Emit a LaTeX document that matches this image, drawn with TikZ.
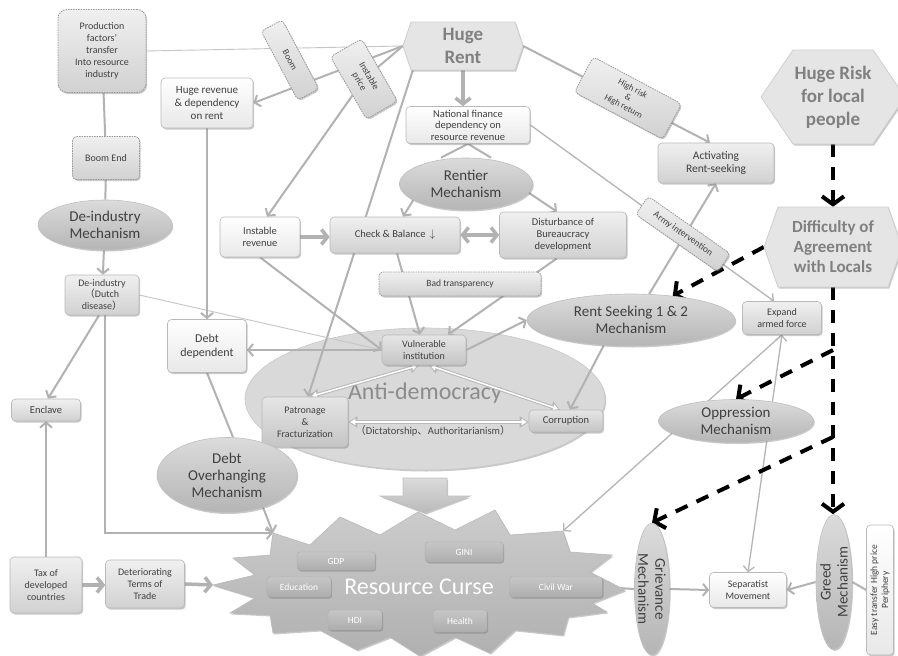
\documentclass[tikz,border=0pt]{standalone}
\usepackage{fontspec}
\setmainfont{Carlito}
\newfontfamily\cjk{Noto Sans CJK JP}
\usetikzlibrary{shapes.geometric,arrows.meta,shadows,calc}
\pgfdeclarelayer{bottom}
\pgfdeclarelayer{bg}
\pgfsetlayers{bottom,bg,main}
\newcommand\fsz[2]{\fontsize{#1}{#2}\selectfont}
\newcommand\vtx[1]{\smash{\raisebox{-0.36em}{\begin{tabular}{@{}c@{}}#1\end{tabular}}}}
\newcommand\hexsh[5]{\path[hexshape] ({#1-#3},{#2}) -- ({#1-#3+#5},{#2-#4}) -- ({#1+#3-#5},{#2-#4}) -- ({#1+#3},{#2}) -- ({#1+#3-#5},{#2+#4}) -- ({#1-#3+#5},{#2+#4}) -- cycle;}
\tikzset{
 shad/.style={drop shadow={shadow xshift=1.2pt, shadow yshift=-1.5pt, opacity=0.35, fill=black!60}},
 box/.style={rectangle, rounded corners=4pt, draw=gray!55, line width=0.6pt, top color=white, bottom color=gray!18, text=black!75, align=center, inner sep=1pt, font=\fsz{10.5}{12}, shad},
 boxm/.style={box, top color=gray!12, bottom color=gray!36},
 boxd/.style={box, top color=gray!20, bottom color=gray!46},
 dbox/.style={boxm, draw=gray!80, dash pattern=on 1.5pt off 1pt, line width=0.8pt},
 mech/.style={ellipse, draw=gray!50, line width=0.6pt, top color=gray!28, bottom color=gray!58, text=black!75, inner sep=0pt, font=\fsz{15}{17}, shad},
 sub/.style={rectangle, rounded corners=3pt, draw=gray!65, top color=gray!45, bottom color=gray!64, text=white, font=\fsz{9.5}{11}, inner sep=1pt, shad},
 hexshape/.style={fill=gray!20, draw=gray!38, line width=0.8pt, shad},
 hextext/.style={rectangle, draw=none, text=black!50, align=center, font=\bfseries\fsz{19}{23}, inner sep=0pt},
 cthin/.style={draw=gray!45, line width=0.9pt},
 cplain/.style={draw=gray!60, line width=2pt},
 cconn/.style={cplain, -{Straight Barb[length=5pt,width=12pt]}},
 cmid/.style={draw=gray!58, line width=1.3pt, -{Straight Barb[length=5pt,width=11pt]}},
 cmidd/.style={cmid, {Straight Barb[length=5pt,width=11pt]}-{Straight Barb[length=5pt,width=11pt]}},
 cfat/.style={draw=gray!60, line width=3.5pt, -{Straight Barb[length=6pt,width=15pt]}},
 cfatdbl/.style={cfat, {Straight Barb[length=6pt,width=15pt]}-{Straight Barb[length=6pt,width=15pt]}},
 cdash/.style={draw=black, line width=4pt, dash pattern=on 13pt off 10pt, -{Straight Barb[length=8pt,width=22pt]}},
 cwdbl/.style={draw=gray!55, line width=3.6pt, {Triangle[length=9pt,width=11pt]}-{Triangle[length=9pt,width=11pt]},
   postaction={draw=white, line width=1.5pt, shorten >=2pt, shorten <=2pt, {Triangle[length=5pt,width=6pt]}-{Triangle[length=5pt,width=6pt]}}}
}
\begin{document}
\begin{tikzpicture}[x=1pt,y=-1pt]
\useasboundingbox (0,0) rectangle (898,656);
\begin{pgfonlayer}{bottom}
\fill[white] (0,0) rectangle (898,656);
\node[ellipse, fill=gray!30, draw=gray!42, line width=0.6pt, minimum width=360pt, minimum height=142pt, text=black!45, font=\fsz{24}{26}, text height=17pt, text depth=17pt, shad] (antidem) at (425,399) {Anti-democracy};
\end{pgfonlayer}

% ---- shapes drawn directly
\hexsh{463}{46}{60}{24}{8}
\hexsh{833}{97}{72}{47}{32}
\hexsh{833}{247}{69}{40}{14}
\path[top color=gray!40, bottom color=gray!62, draw=gray!55, line width=0.6pt, shad]
 (213,585) -- (255,575) -- (233,558) -- (270,555) -- (273,533) -- (310,545) -- (340,517) -- (380,535) -- (418,512) -- (455,530) -- (495,510) -- (510,535) -- (563,531) -- (570,552) -- (612,555) -- (590,572) -- (625,590) -- (592,603) -- (607,612) -- (568,617) -- (563,635) -- (515,630) -- (490,653) -- (455,637) -- (420,656) -- (390,637) -- (357,650) -- (320,630) -- (273,633) -- (270,615) -- (230,613) -- (255,598) -- cycle;
\coordinate (rctl) at (273,533);
\coordinate (rcl) at (213,585);
\coordinate (rctr) at (563,531);
\path[top color=gray!28, bottom color=gray!55, draw=gray!50, line width=0.6pt, shad]
 (403,478) -- (447,478) -- (447,496) -- (470,496) -- (425,513) -- (380,496) -- (403,496) -- cycle;

% ---- nodes
\node[dbox, minimum width=88pt, minimum height=83pt, rounded corners=9pt, font=\fsz{10}{12}] (prod) at (102,51) {Production\\factors'\\transfer\\Into resource\\industry};
\node[dbox, minimum width=67pt, minimum height=43pt, font=\fsz{10}{12}] (boomend) at (106,158) {Boom End};
\node[mech, minimum width=134pt, minimum height=50pt] (deindm) at (105,225) {\vtx{De-industry\\Mechanism}};
\node[boxm, minimum width=74pt, minimum height=40pt, font=\fsz{10}{11.5}] (deind) at (102,295) {De-industry\\{\cjk（}Dutch\\disease{\cjk）}};
\node[box, minimum width=92pt, minimum height=50pt, font=\fsz{11}{13}] (hrev) at (207,103) {Huge revenue\\\& dependency\\on rent};
\node[dbox, rotate=-62, minimum width=78pt, minimum height=24pt, font=\fsz{9}{10}] (boom) at (290,60) {Boom};
\node[dbox, rotate=-60, minimum width=72pt, minimum height=36pt, font=\fsz{9.5}{11}] (iprice) at (364,79) {Instable\\price};
\node[hextext, minimum width=120pt, minimum height=48pt] (hrent) at (463,46) {Huge\\Rent};
\node[box, minimum width=124pt, minimum height=37pt, font=\fsz{10.5}{11.5}] (natfin) at (468,125) {National finance\\dependency on\\resource revenue};
\node[dbox, rotate=-28, minimum width=100pt, minimum height=40pt, font=\fsz{9}{10}] (hrlbl) at (628,98) {High risk\\\&\\High return};
\node[hextext, minimum width=144pt, minimum height=94pt] (hrisk) at (833,97) {Huge Risk\\for local\\people};
\node[boxm, minimum width=116pt, minimum height=40pt, font=\fsz{11.5}{13.5}] (activ) at (716,163) {Activating\\Rent-seeking};
\node[mech, minimum width=133pt, minimum height=52pt] (rentier) at (466,184) {\vtx{Rentier\\Mechanism}};
\node[box, minimum width=80pt, minimum height=40pt] (instrev) at (260,237) {Instable\\revenue};
\node[boxm, minimum width=130pt, minimum height=36pt] (cb) at (395,235) {Check \& Balance \,$\downarrow$};
\node[boxm, minimum width=127pt, minimum height=46pt] (dist) at (563,235) {Disturbance of\\Bureaucracy\\development};
\node[dbox, minimum width=162pt, minimum height=24pt, font=\fsz{9.5}{11}] (badt) at (460,284) {Bad transparency};
\node[mech, minimum width=208pt, minimum height=52pt] (rsm) at (631,320) {\vtx{Rent Seeking 1 \& 2\\Mechanism}};
\node[dbox, rotate=-35, minimum width=100pt, minimum height=22pt, font=\fsz{9.5}{11}] (army) at (683,234) {Army intervention};
\node[hextext, font=\bfseries\fsz{17}{20}, minimum width=138pt, minimum height=80pt] (diff) at (833,247) {Difficulty of\\Agreement\\with Locals};
\node[boxm, minimum width=79pt, minimum height=33pt, font=\fsz{10}{11.5}] (expand) at (782,318) {Expand\\armed force};
\node[boxd, minimum width=84pt, minimum height=30pt, font=\fsz{10}{11.5}] (vuln) at (424,350) {Vulnerable\\institution};
\node[box, minimum width=79pt, minimum height=53pt, font=\fsz{12}{14}] (debtdep) at (207,346) {Debt\\dependent};
\node[boxd, minimum width=86pt, minimum height=50pt, font=\fsz{10}{12}] (patr) at (305,422) {Patronage\\\&\\Fracturization};
\node[boxd, minimum width=74pt, minimum height=22pt] (corr) at (566,421) {Corruption};
\node[text=black!72, font=\fsz{10.5}{12}, inner sep=0pt] (dict) at (433,431) {{\cjk（}Dictatorship{\cjk 、}Authoritarianism{\cjk）}};
\node[boxm, minimum width=69pt, minimum height=22pt] (enclave) at (46,410) {Enclave};
\node[mech, minimum width=140pt, minimum height=75pt] (debtov) at (227,475) {\vtx{Debt\\Overhanging\\Mechanism}};
\node[mech, minimum width=155pt, minimum height=43pt] (oppr) at (736,421) {\vtx{Oppression\\Mechanism}};
\node[boxm, minimum width=72pt, minimum height=56pt, font=\fsz{10}{12}] (tax) at (46,585) {Tax of\\developed\\countries};
\node[boxm, minimum width=79pt, minimum height=48pt, font=\fsz{10}{12}] (deter) at (145,584) {Deteriorating\\Terms of\\Trade};
\node[text=white, font=\fsz{24}{26}, inner sep=0pt] (rc) at (419,587) {Resource Curse};
\node[sub, minimum width=78pt, minimum height=18pt] (gdp) at (336,561) {GDP};
\node[sub, minimum width=78pt, minimum height=20pt] (gini) at (464,552) {GINI};
\node[sub, minimum width=64pt, minimum height=20pt] (edu) at (299,587) {Education};
\node[sub, minimum width=93pt, minimum height=20pt] (civil) at (556,587) {Civil War};
\node[sub, minimum width=54pt, minimum height=20pt] (hdi) at (355,620) {HDI};
\node[sub, minimum width=54pt, minimum height=22pt] (health) at (460,621) {Health};
\node[mech, rotate=-90, minimum width=132pt, minimum height=35pt] (griev) at (652,589) {\vtx{Grievance\\Mechanism}};
\node[box, minimum width=77pt, minimum height=35pt, font=\fsz{10}{12}] (sep) at (748,590) {Separatist\\Movement};
\node[mech, rotate=90, minimum width=135pt, minimum height=36pt] (greed) at (834,582) {\vtx{Greed\\Mechanism}};
\node[box, rotate=90, minimum width=130pt, minimum height=27pt, font=\fsz{9.5}{11}] (easy) at (880,590) {Easy transfer High price\\Periphery};

% ---- connectors
\begin{pgfonlayer}{bg}
\draw[cthin] (prod.east) -- (hrent.west);
\draw[cplain] (prod) -- (boomend);
\draw[cplain] (boomend) -- (deindm);
\draw[cconn] (deindm) -- (deind);
\draw[cconn] (hrent.west) -- (hrev.east);
\draw[cconn] (hrent.west) -- (iprice.center) -- ([xshift=7pt]instrev.north);
\draw[cconn] ([xshift=10pt]hrent.south west) -- ([xshift=3pt]patr.north);
\draw[cfat] (hrent.south) -- (hrent.south |- natfin.north);
\draw[cconn] (hrent.east) -- ([xshift=-6pt]activ.north);
\draw[cplain] (natfin.south) -- ([xshift=-25pt]rentier.north);
\draw[cplain] (natfin.south) -- ([xshift=25pt]rentier.north);
\draw[cconn] (rentier.197) -- ([xshift=8pt]cb.north);
\draw[cconn] (rentier.-8) -- ([xshift=-6pt]dist.north);
\draw[cfat] (instrev.east) -- (instrev.east -| cb.west);
\draw[cfatdbl] (cb.east) -- (cb.east -| dist.west);
\draw[cconn] ([xshift=2pt]cb.south) -- ([xshift=-4pt]vuln.north);
\draw[cconn] ([xshift=-6pt]dist.south) -- ([xshift=24pt]vuln.north);
\draw[cconn] (instrev.south) -- (vuln.west);
\draw[cthin] (deind.east) -- (vuln.west);
\draw[cconn] (vuln.west) -- (vuln.west -| debtdep.east);
\draw[cconn] (hrev.south) -- (debtdep.north);
\draw[cplain] (debtdep.south) -- ([xshift=6pt]debtov.north);
\draw[cconn] (debtov.-42) -- (rctl);
\draw[cconn] ([xshift=3pt]deind.south) |- (rctl);
\draw[cconn] ([xshift=-3pt]deind.south) -- ([xshift=2pt]enclave.north);
\draw[cconn] (tax.north) -- (enclave.south);
\draw[cfat] (tax.east) -- (tax.east -| deter.west);
\draw[cfat] (deter.east) -- (rcl);
\draw[cconn] (vuln.east) -- (rsm.west);
\draw[cconn] (rsm.55) -- (activ.south);
\draw[cconn] (rsm.223) -- ([xshift=4pt]corr.north);
\draw[cwdbl] ([xshift=-5pt]vuln.south) -- ([xshift=5pt]patr.north);
\draw[cwdbl] ([xshift=5pt]vuln.south) -- ([xshift=-6pt]corr.north);
\draw[cwdbl] (patr.east) -- (patr.east -| corr.west);
\draw[cmid] (natfin.east) -- ([xshift=-8pt]expand.north);
\draw[cmidd] (expand.south) -- (sep.north);
\draw[cmid] (expand.south) -- (rctr);
\draw[cconn] (griev.south) -- (civil.east);
\draw[cconn] (griev.north) -- (sep.west);
\draw[cconn] (greed.north) -- (sep.east);
\draw[cplain] (easy.north) -- (greed.south);
\draw[cdash] (hrisk.south) -- (diff.north);
\draw[cdash] (diff.south) -- (diff.south |- greed.east);
\draw[cdash] (diff.west) -- (rsm.30);
\draw[cdash] (diff.south |- 0,350) -- (oppr.north);
\draw[cdash] (diff.south |- 0,437) -- (griev.west);
\end{pgfonlayer}
\end{tikzpicture}
\end{document}
